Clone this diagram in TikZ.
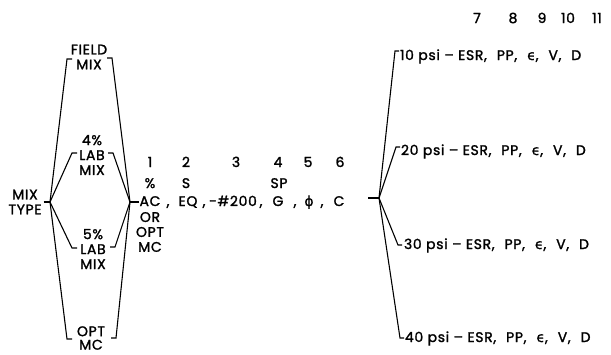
\documentclass[tikz,border=0pt]{standalone}
\usepackage{fontspec}
\setmainfont{Poppins}[LetterSpace=5, FakeBold=1.6]
\newfontfamily\grk{DejaVu Sans}[FakeBold=1]
\tikzset{
  lbl/.style = {inner sep=0pt, outer sep=0pt, align=center,
                font=\fontsize{14}{15}\selectfont},
  row/.style = {lbl, anchor=base},
  branch/.style = {line width=1.1pt}
}
\newcommand{\gap}{\hspace{10bp}}
\newcommand{\psirow}[1]{#1 psi -- ESR,\gap PP,\gap{\grk ϵ},\gap V,\gap D}

\begin{document}
\begin{tikzpicture}[x=1bp, y=-1bp]
	\def \tick{5}
	\useasboundingbox (0,0) rectangle (611,354);
	
	% Junctions
	\coordinate (lj) at (50,202);
	\coordinate (rj) at (130,202);
	\coordinate (pj) at (379,198);
	\coordinate (pjin) at (368,198);
	
	% Mix types
	\node[lbl] (mixtype) at (25,202) {MIX\\TYPE};
	\node[lbl] (field) at (89,57) {FIELD\\MIX};
	\node[lbl] (lab4) at (92,155) {4\%\\LAB\\MIX};
	\node[lbl] (lab5) at (93,249) {5\%\\LAB\\MIX};
	\node[lbl, font=\fontsize{14}{13.5}\selectfont] (optmc) at (91,338) {OPT\\MC};
	
	% Bracket corners
	\coordinate (fieldL) at (67,59);   \coordinate (fieldR) at (112,58);
	\coordinate (lab4L) at (72,153);   \coordinate (lab4R) at (113,153);
	\coordinate (lab5L) at (72,248);   \coordinate (lab5R) at (115,247);
	\coordinate (optmcL) at (67,339);  \coordinate (optmcR) at (116,338);
	
	% Left tree
	\draw[branch] ([xshift=2pt]mixtype.east) -- (lj);
	\draw[branch] (lj) -- (fieldL) -- ++(\tick,0);
	\draw[branch] (lj) -- (lab4L) -- ++(\tick,0);
	\draw[branch] (lj) -- (lab5L) -- ++(\tick,0);
	\draw[branch] (lj) -- (optmcL) -- ++(\tick,0);
	
	% Right tree
	\draw[branch] (rj) -- (fieldR) -- ++(-\tick,0);
	\draw[branch] (rj) -- (lab4R) -- ++(-\tick,0);
	\draw[branch] (rj) -- (lab5R) -- ++(-\tick,0);
	\draw[branch] (rj) -- (optmcR) -- ++(-\tick,0);
	
	% Column numbers 1-6
	\node[row] (n1) at (150,167) {1};
	\node[row] (n2) at (186,167) {2};
	\node[row] (n3) at (236,167) {3};
	\node[row] (n4) at (278,167) {4};
	\node[row] (n5) at (308,167) {5};
	\node[row] (n6) at (340,167) {6};
	
	% Properties
	\node[row] (pct) at (150,188) {\%};
	\node[row] (s) at (186,188) {S};
	\node[row] (sp) at (279,188) {SP};
	\node[row] (ac) at (150,206) {AC};
	\node[row] (k1) at (168,206) {,};
	\node[row] (eq) at (188,206) {EQ};
	\node[row] (k2) at (204,206) {,};
	\node[row] (sieve) at (233,206) {-\#200};
	\node[row] (k3) at (261,206) {,};
	\node[row] (g) at (278,206) {G};
	\node[row] (k4) at (295,206) {,};
	\node[row] (phi) at (309,206) {{\grk ϕ}};
	\node[row] (k5) at (322,206) {,};
	\node[row] (c) at (339,206) {C};
	\node[lbl] (alt) at (150,232) {OR\\OPT\\MC};
	\draw[branch] (rj) -- ([xshift=-1pt]ac.west |- rj);
	
	% Column numbers 7-11
	\node[row] (n7) at (477,23) {7};
	\node[row] (n8) at (513,23) {8};
	\node[row] (n9) at (542,23) {9};
	\node[row] (n10) at (568,23) {10};
	\node[row] (n11) at (597,23) {11};
	
	% Pressures
	\node[row, anchor=base west] (p10) at (400,60) {\psirow{10}};
	\node[row, anchor=base west] (p20) at (401,155) {\psirow{20}};
	\node[row, anchor=base west] (p30) at (404,249) {\psirow{30}};
	\node[row, anchor=base west] (p40) at (405,342) {\psirow{40}};
	
	\coordinate (p10c) at (395,51);
	\coordinate (p20c) at (396,147);
	\coordinate (p30c) at (398,245);
	\coordinate (p40c) at (400,338);
	
	\draw[branch] (pjin) -- (pj);
	\draw[branch] (pj) -- (p10c) -- ++(4,0);
	\draw[branch] (pj) -- (p20c) -- ++(4,0);
	\draw[branch] (pj) -- (p30c) -- ++(4,0);
	\draw[branch] (pj) -- (p40c) -- ++(4,0);
	
\end{tikzpicture}
\end{document}
